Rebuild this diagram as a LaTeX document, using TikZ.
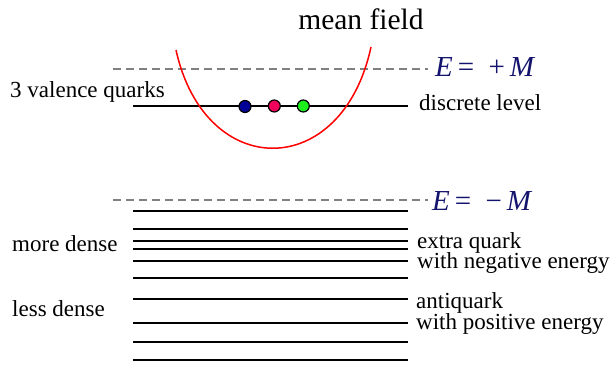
\documentclass[tikz,border=0pt]{standalone}
\usepackage{fontspec}
\setmainfont{Liberation Serif}
\usetikzlibrary{positioning}
\definecolor{energyblue}{RGB}{20,20,110}
\definecolor{quarkblue}{RGB}{0,0,150}
\definecolor{quarkred}{RGB}{240,0,90}
\definecolor{quarkgreen}{RGB}{30,240,30}

\begin{document}
\begin{tikzpicture}[x=1pt,y=-1pt,
  txt/.style={inner sep=0pt,anchor=base west,font=\fontsize{23}{27}\selectfont},
  elabel/.style={inner sep=0pt,anchor=base west,text=energyblue,font=\fontsize{29}{33}\selectfont},
  level/.style={line width=2pt},
  bound/.style={draw=gray,line width=1.6pt,dash pattern=on 8pt off 5pt},
  quark/.style={circle,draw,line width=1.2pt,minimum size=12pt,inner sep=0pt}]
  \useasboundingbox (0,0) rectangle (616,379);

  % --- (a) mean field and the discrete level ---
  \node[inner sep=0pt,anchor=base,font=\fontsize{29.5}{34}\selectfont] (title) at (361,29.5) {mean field};
  \node[elabel] (Eplus) at (435,77) {\textit{E}\,=\enspace+\,\textit{M}};
  \coordinate (upbound) at (113,69);
  \draw[bound,shorten >=7pt] (upbound) -- (upbound -| Eplus.west);
  \node[txt] (valence) at (10,98) {3 valence quarks};
  \node[txt] (discrete) at (419,111) {discrete level};
  \draw[level] (133,106) -- (408,106);
  \draw[red,line width=1.5pt] (176,50) .. controls (205,181.5) and (342,181.5) .. (371,47);
  \node[quark,fill=quarkblue] (qblue) at (245,106.5) {};
  \node[quark,fill=quarkred] (qred) at (274.3,106) {};
  \node[quark,fill=quarkgreen] (qgreen) at (303.3,106) {};

  % --- (b) Dirac sea below E = -M ---
  \node[elabel] (Eminus) at (432,211) {\textit{E}\,=\enspace−\,\textit{M}};
  \coordinate (lowbound) at (113,200);
  \draw[bound,shorten >=4pt] (lowbound) -- (lowbound -| Eminus.west);
  % dense group
  \draw[level] (133,211) -- (408,211); \draw[level] (133,229) -- (408,229);
  \draw[level] (133,241) -- (408,241); \draw[level] (133,249) -- (408,249);
  \draw[level] (133,261) -- (408,261); \draw[level] (133,278) -- (408,278);
  % sparse group
  \draw[level] (133,299) -- (408,299); \draw[level] (133,323) -- (408,323);
  \draw[level] (133,342) -- (408,342); \draw[level] (133,360) -- (408,360);
  % labels
  \node[txt] (moredense) at (12,251.5) {more dense};
  \node[txt] (lessdense) at (12,317) {less dense};
  \node[txt] (extraq) at (417,248.5) {extra quark};
  \node[txt] (negen) at (417,269) {with negative energy};
  \node[txt] (antiq) at (416,309) {antiquark};
  \node[txt] (posen) at (416,330) {with positive energy};
\end{tikzpicture}
\end{document}
